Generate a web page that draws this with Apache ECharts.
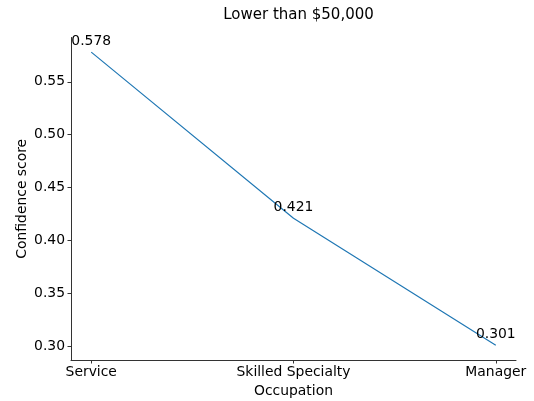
<!DOCTYPE html>
<html>
<head>
<meta charset="utf-8">
<script src="https://cdn.jsdelivr.net/npm/echarts@6/dist/echarts.min.js"></script>
<style>
  html, body { margin: 0; padding: 0; background: #fff; }
  #chart { width: 534px; height: 401px; }
</style>
</head>
<body>
<div id="chart"></div>
<script>
// data
const categories = ['Service', 'Skilled Specialty', 'Manager'];
const scores = [0.578, 0.421, 0.301];
const yTicks = [0.30, 0.35, 0.40, 0.45, 0.50, 0.55];

const font = 'DejaVu Sans';
const fs = 13.9;
const chart = echarts.init(document.getElementById('chart'));

const points = scores.map((v, i) => [i, v]);

chart.setOption({
    backgroundColor: '#fff',
    animation: false,
    title: {
        text: 'Lower than $50,000',
        left: 293.5,
        textAlign: 'center',
        top: 3,
        textStyle: { fontFamily: font, fontSize: 15, fontWeight: 'normal', color: '#000' }
    },
    grid: { left: 71, right: 18, top: 37.5, bottom: 41, containLabel: false, outerBoundsMode: 'none' },
    xAxis: {
        type: 'value',
        min: -0.1,
        max: 2.1,
        name: 'Occupation',
        nameLocation: 'middle',
        nameGap: 17.5,
        nameTextStyle: { fontFamily: font, fontSize: fs, color: '#000' },
        splitLine: { show: false },
        axisLine: { onZero: false, lineStyle: { color: '#333', width: 1 } },
        axisTick: { customValues: [0, 1, 2], length: 3.5, lineStyle: { color: '#333' } },
        axisLabel: {
            customValues: [0, 1, 2],
            formatter: v => categories[Math.round(v)],
            fontFamily: font, fontSize: fs, color: '#000', margin: 5
        }
    },
    yAxis: {
        type: 'value',
        min: 0.28715,
        max: 0.59185,
        name: 'Confidence score',
        nameLocation: 'middle',
        nameGap: 42,
        nameMoveOverlap: false,
        nameTextStyle: { fontFamily: font, fontSize: fs, color: '#000' },
        splitLine: { show: false },
        axisLine: { show: true, onZero: false, lineStyle: { color: '#333', width: 1 } },
        axisTick: { show: true, customValues: yTicks, length: 3.5, lineStyle: { color: '#333' } },
        axisLabel: {
            customValues: yTicks,
            formatter: v => v.toFixed(2),
            fontFamily: font, fontSize: fs, color: '#000', margin: 6
        }
    },
    series: [{
        type: 'line',
        data: points,
        symbol: 'circle',
        symbolSize: 0,
        lineStyle: { color: '#1f77b4', width: 1.2 },
        label: {
            show: true,
            position: 'top',
            distance: 4,
            formatter: p => p.value[1].toFixed(3),
            fontFamily: font, fontSize: fs, color: '#000'
        }
    }]
});
</script>
</body>
</html>
